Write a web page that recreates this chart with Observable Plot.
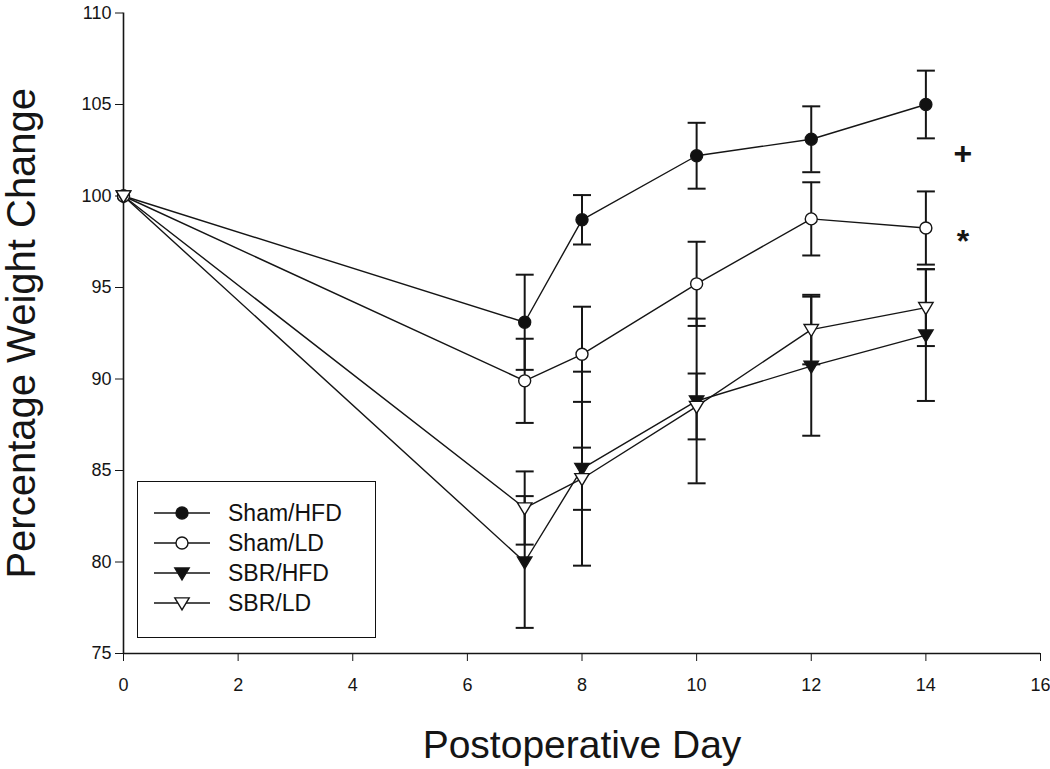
<!DOCTYPE html>
<html>
<head>
<meta charset="utf-8">
<script src="https://cdn.jsdelivr.net/npm/d3@7"></script>
<script src="https://cdn.jsdelivr.net/npm/@observablehq/plot@0.6"></script>
<style>
  html, body { margin: 0; padding: 0; background: #fff; }
  #wrap { position: relative; width: 1050px; height: 769px; font-family: "Liberation Sans", Arial, sans-serif; }
  #legend { position: absolute; left: 137px; top: 481px; width: 237px; height: 155px; border: 1.6px solid #111; background: #fff; }
  .row { position: absolute; left: 0; height: 30px; display: flex; align-items: center; }
  .row svg { margin-left: 16px; }
  .row span { margin-left: 18px; font-size: 23px; color: #111; }
</style>
</head>
<body>
<div id="wrap"></div>
<script>
// ---- data ----
const days = [0, 7, 8, 10, 12, 14];
const seriesNames = ["Sham/HFD", "Sham/LD", "SBR/HFD", "SBR/LD"];
const shamHFD   = [100, 93.1, 98.7, 102.2, 103.1, 105.0];
const shamHFDse = [0, 2.6, 1.35, 1.8, 1.8, 1.85];
const shamLD    = [100, 89.9, 91.35, 95.2, 98.75, 98.25];
const shamLDse  = [0, 2.3, 2.6, 2.3, 2.0, 2.0];
const sbrHFD    = [100, 80.0, 85.1, 88.8, 90.7, 92.4];
const sbrHFDse  = [0, 3.6, 5.3, 4.5, 3.8, 3.6];
const sbrLD     = [100, 82.95, 84.55, 88.5, 92.7, 93.9];
const sbrLDse   = [0, 2.0, 1.7, 1.8, 1.9, 2.1];
const xTicks = [0, 2, 4, 6, 8, 10, 12, 14, 16];
const yTicks = [75, 80, 85, 90, 95, 100, 105, 110];
const annotations = [
  {day: 14, value: 102.3, text: "+"},
  {day: 14, value: 97.5, text: "*"}
];

const values = [shamHFD, shamLD, sbrHFD, sbrLD];
const ses = [shamHFDse, shamLDse, sbrHFDse, sbrLDse];
const rows = [];
seriesNames.forEach((s, i) => days.forEach((d, j) => rows.push({series: s, day: d, value: values[i][j], se: ses[i][j]})));
const errRows = rows.filter(r => r.se > 0);

// ---- symbols ----
const triDown = {draw(ctx, size) {
  const r = Math.sqrt(size / Math.PI);
  ctx.moveTo(-r * 1.2, -r * 0.85);
  ctx.lineTo(r * 1.2, -r * 0.85);
  ctx.lineTo(0, r * 1.15);
  ctx.closePath();
}};
const cap = {draw(ctx, size) { ctx.moveTo(-9, 0); ctx.lineTo(9, 0); }};
const styles = {
  "Sham/HFD": {symbol: "circle", fill: "#111"},
  "Sham/LD": {symbol: "circle", fill: "#fff"},
  "SBR/HFD": {symbol: triDown, fill: "#111"},
  "SBR/LD": {symbol: triDown, fill: "#fff"}
};

const ink = "#151515";
const marks = [
  Plot.ruleY([75], {stroke: ink, strokeWidth: 1.6}),
  Plot.ruleX([0], {stroke: ink, strokeWidth: 1.6}),
  Plot.axisX({ticks: xTicks, tickSize: 8, tickPadding: 17, fontSize: 18, label: null, stroke: ink, color: ink}),
  Plot.axisY({ticks: yTicks, tickSize: 8, tickPadding: 4, fontSize: 18, label: null, stroke: ink, color: ink}),
  Plot.ruleX(errRows, {x: "day", y1: d => d.value - d.se, y2: d => d.value + d.se, stroke: ink, strokeWidth: 2}),
  Plot.dot(errRows, {x: "day", y: d => d.value + d.se, symbol: cap, stroke: ink, strokeWidth: 2, fill: "none"}),
  Plot.dot(errRows, {x: "day", y: d => d.value - d.se, symbol: cap, stroke: ink, strokeWidth: 2, fill: "none"}),
  Plot.line(rows, {x: "day", y: "value", z: "series", stroke: ink, strokeWidth: 1.4})
];
seriesNames.forEach(s => {
  marks.push(Plot.dot(rows.filter(r => r.series === s), {x: "day", y: "value", r: 6, symbol: styles[s].symbol, fill: styles[s].fill, stroke: ink, strokeWidth: 1.4}));
});
marks.push(
  Plot.text(annotations, {x: "day", y: "value", text: "text", dx: 37, fontSize: 32, fontWeight: "bold", fill: ink}),
  Plot.text(["Percentage Weight Change"], {frameAnchor: "left", dx: -101, rotate: -90, textAnchor: "middle", lineAnchor: "middle", fontSize: 40, fill: ink}),
  Plot.text(["Postoperative Day"], {frameAnchor: "bottom", dy: 92, textAnchor: "middle", lineAnchor: "middle", fontSize: 39, fill: ink})
);

const chart = Plot.plot({
  width: 1050,
  height: 769,
  marginLeft: 123,
  marginRight: 10,
  marginTop: 12.5,
  marginBottom: 116,
  x: {domain: [0, 16]},
  y: {domain: [75, 110]},
  style: {fontFamily: "'Liberation Sans', Arial, sans-serif", background: "#fff", overflow: "visible"},
  marks
});
const wrap = document.getElementById("wrap");
wrap.appendChild(chart);

// ---- legend (inside plot, HTML overlay) ----
const legend = document.createElement("div");
legend.id = "legend";
seriesNames.forEach((s, i) => {
  const row = document.createElement("div");
  row.className = "row";
  row.style.top = (16 + i * 30) + "px";
  const sw = d3.create("svg").attr("width", 56).attr("height", 20);
  sw.append("line").attr("x1", 0).attr("x2", 56).attr("y1", 10).attr("y2", 10).attr("stroke", ink).attr("stroke-width", 1.6);
  const st = styles[s];
  if (st.symbol === "circle") {
    sw.append("circle").attr("cx", 28).attr("cy", 10).attr("r", 6).attr("fill", st.fill).attr("stroke", ink).attr("stroke-width", 1.4);
  } else {
    sw.append("path").attr("transform", "translate(28,10)").attr("d", d3.symbol(triDown, Math.PI * 36)()).attr("fill", st.fill).attr("stroke", ink).attr("stroke-width", 1.4);
  }
  row.appendChild(sw.node());
  const t = document.createElement("span");
  t.textContent = s;
  row.appendChild(t);
  legend.appendChild(row);
});
wrap.appendChild(legend);
</script>
</body>
</html>
